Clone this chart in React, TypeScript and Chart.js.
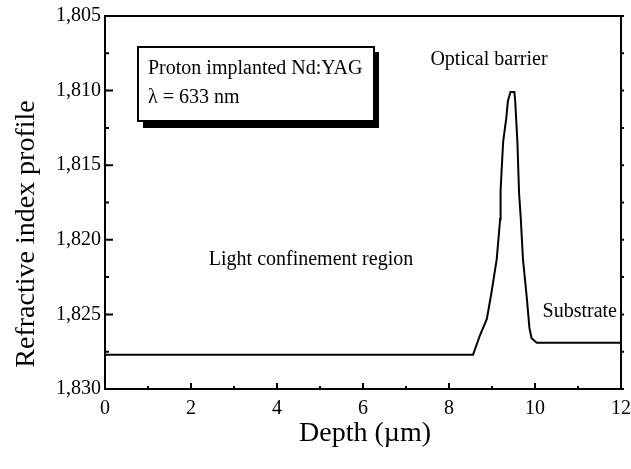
import React, { useEffect, useRef } from "react";
import { Chart, registerables } from "chart.js";

Chart.register(...registerables);

const depth = [0, 8.56, 8.72, 8.88, 8.99, 9.11, 9.19, 9.2, 9.23, 9.26, 9.33, 9.37, 9.43, 9.52, 9.54, 9.59, 9.63, 9.67, 9.72, 9.81, 9.87, 9.92, 10.04, 12];
const refIndex = [1.8277, 1.8277, 1.8264, 1.8253, 1.8235, 1.8213, 1.8186, 1.8167, 1.815, 1.8134, 1.8119, 1.8107, 1.8101, 1.8101, 1.8107, 1.8134, 1.8169, 1.8186, 1.8213, 1.8239, 1.8259, 1.8266, 1.8269, 1.8269];

const xMajorTicks = [0, 2, 4, 6, 8, 10, 12];
const xMinorTicks = [1, 3, 5, 7, 9, 11];
const yMajorTicks = [1.805, 1.81, 1.815, 1.82, 1.825, 1.83];
const yMinorTicks = [1.8075, 1.8125, 1.8175, 1.8225, 1.8275];

const boxLines = ["Proton implanted Nd:YAG", "\u03BB = 633 nm"];
const labelBarrier = "Optical barrier";
const labelConfinement = "Light confinement region";
const labelSubstrate = "Substrate";
const xTitle = "Depth (\u00B5m)";
const yTitle = "Refractive index profile";

const FONT = "'Liberation Serif', 'DejaVu Serif', serif";

const framePlugin = {
  id: "framePlugin",
  afterDraw(chart: any) {
    const ctx = chart.ctx;
    const { left, right, top, bottom } = chart.chartArea;
    const xs = chart.scales.x;
    const ys = chart.scales.y;
    ctx.save();
    ctx.strokeStyle = "#000";
    ctx.lineWidth = 2;
    ctx.strokeRect(left, top, right - left, bottom - top);
    ctx.beginPath();
    xMajorTicks.forEach((v) => {
      const px = xs.getPixelForValue(v);
      ctx.moveTo(px, bottom);
      ctx.lineTo(px, bottom - 6);
    });
    xMinorTicks.forEach((v) => {
      const px = xs.getPixelForValue(v);
      ctx.moveTo(px, bottom);
      ctx.lineTo(px, bottom - 3);
    });
    yMajorTicks.forEach((v) => {
      const py = ys.getPixelForValue(v);
      ctx.moveTo(left, py);
      ctx.lineTo(left + 8, py);
      ctx.moveTo(right, py);
      ctx.lineTo(right + 3, py);
    });
    yMinorTicks.forEach((v) => {
      const py = ys.getPixelForValue(v);
      ctx.moveTo(left, py);
      ctx.lineTo(left + 4, py);
      ctx.moveTo(right, py);
      ctx.lineTo(right + 3, py);
    });
    ctx.stroke();

    // annotation box with shadow
    const bx = 138, by = 47, bw = 236, bh = 74;
    ctx.fillStyle = "#000";
    ctx.fillRect(bx + 5, by + 5, bw, bh + 2);
    ctx.fillStyle = "#fff";
    ctx.fillRect(bx, by, bw, bh);
    ctx.lineWidth = 2;
    ctx.strokeRect(bx, by, bw, bh);

    ctx.fillStyle = "#000";
    ctx.font = `20px ${FONT}`;
    ctx.textBaseline = "middle";
    ctx.textAlign = "left";
    ctx.fillText(boxLines[0], 148, 69);
    ctx.fillText(boxLines[1], 148, 98);

    ctx.textAlign = "center";
    ctx.fillText(labelBarrier, 489, 60);
    ctx.fillText(labelConfinement, 311, 260);
    ctx.textAlign = "right";
    ctx.fillText(labelSubstrate, 617, 312);

    // axis titles
    ctx.font = `28px ${FONT}`;
    ctx.textAlign = "center";
    ctx.fillText(xTitle, 365, 434);
    ctx.translate(27, 234);
    ctx.rotate(-Math.PI / 2);
    ctx.fillText(yTitle, 0, 0);
    ctx.restore();
  },
};

export default function App() {
  const ref = useRef<HTMLCanvasElement | null>(null);
  useEffect(() => {
    if (!ref.current) return;
    const points = depth.map((d, i) => ({ x: d, y: refIndex[i] }));
    const chart = new Chart(ref.current, {
      type: "line",
      data: {
        datasets: [
          {
            data: points,
            borderColor: "#000",
            borderWidth: 2,
            pointRadius: 0,
            tension: 0,
            fill: false,
          },
        ],
      },
      options: {
        responsive: false,
        animation: false,
        devicePixelRatio: 1,
        layout: { padding: { top: 16, right: 0, left: 0, bottom: 0 } },
        plugins: { legend: { display: false }, tooltip: { enabled: false } },
        scales: {
          x: {
            type: "linear",
            min: 0,
            max: 12,
            grid: { display: false, drawTicks: false },
            border: { display: false },
            ticks: {
              stepSize: 2,
              padding: 8,
              color: "#000",
              font: { family: FONT, size: 20 },
              maxRotation: 0,
              callback: (v: any) => String(v),
            },
            afterFit: (s: any) => {
              s.height = 80;
              s.paddingRight = 10;
            },
          },
          y: {
            type: "linear",
            min: 1.805,
            max: 1.83,
            reverse: true,
            grid: { display: false, drawTicks: false },
            border: { display: false },
            ticks: {
              stepSize: 0.005,
              padding: 4,
              color: "#000",
              font: { family: FONT, size: 20 },
              callback: (v: any) => Number(v).toFixed(3).replace(".", ","),
            },
            afterFit: (s: any) => {
              s.width = 105;
            },
          },
        },
      },
      plugins: [framePlugin],
    });
    return () => chart.destroy();
  }, []);
  return (
    <div style={{ position: "absolute", left: 0, top: 0, width: 631, height: 469, background: "#fff" }}>
      <canvas ref={ref} width={631} height={469} />
    </div>
  );
}
